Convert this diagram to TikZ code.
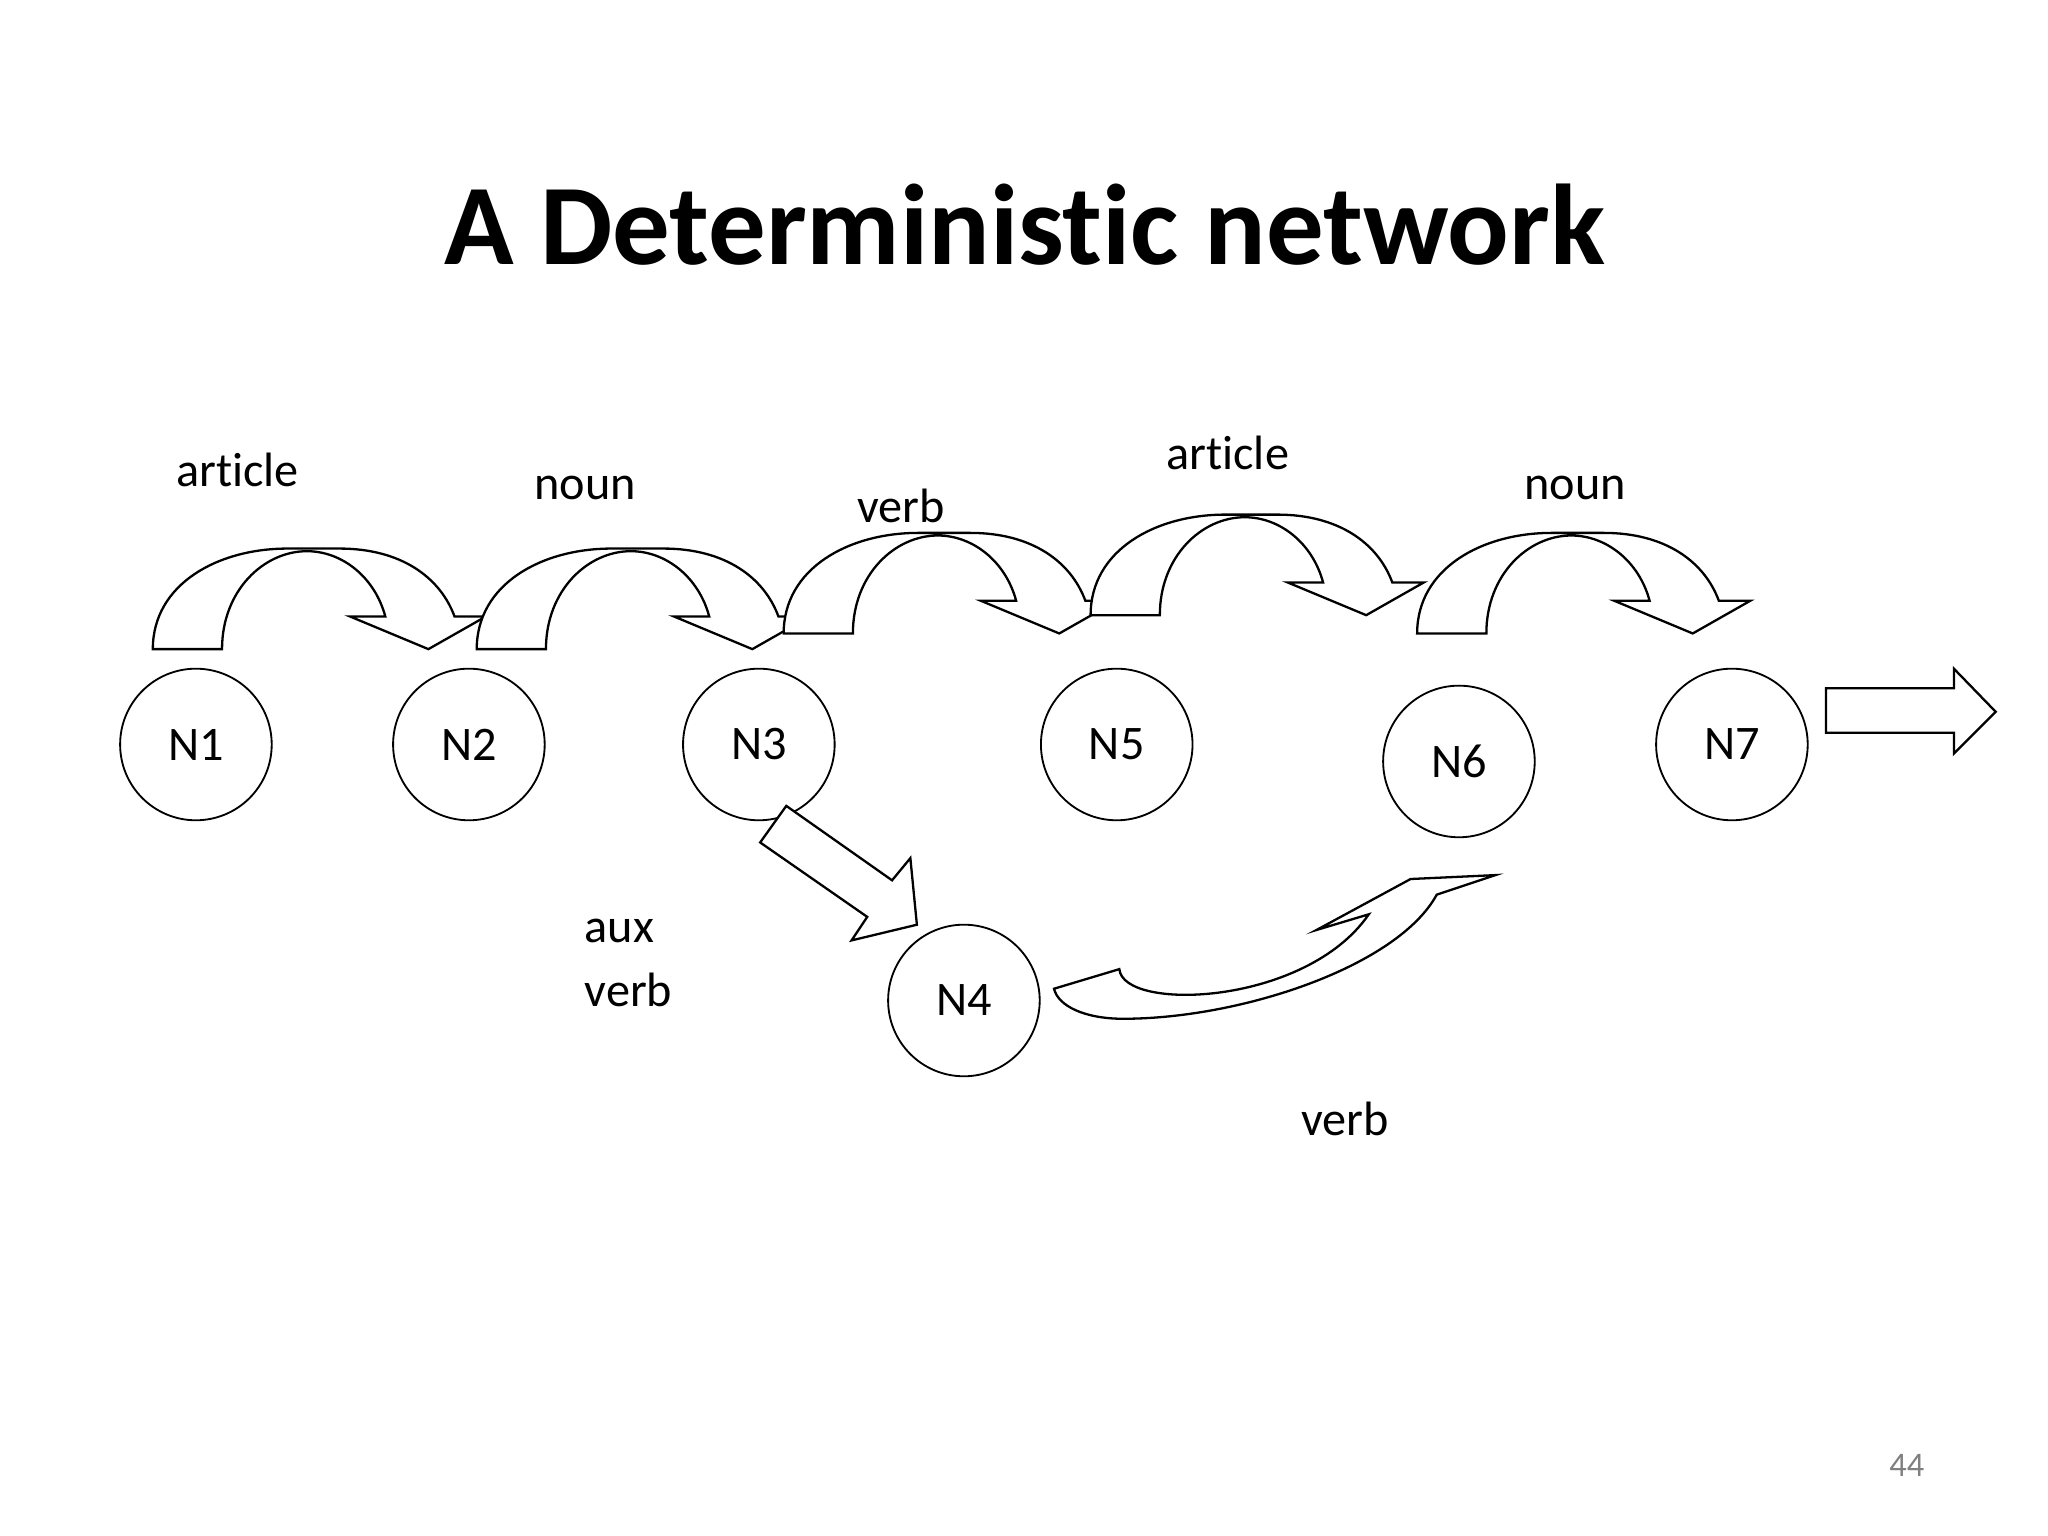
\documentclass[tikz,border=0pt]{standalone}
\usepackage{fontspec}
\setmainfont{Carlito}[Ligatures={NoCommon,NoRare}]
\usepackage{tikz}
\tikzstyle{state} = [draw=black, circle, minimum size=1.16cm, inner sep=0pt, font=\fontsize{10.5}{12}\selectfont]
\tikzstyle{lbl} = [font=\fontsize{10.5}{12}\selectfont, inner sep=0pt]
\tikzstyle{blockarrow} = [draw=black, fill=white, line width=0.5pt, line join=miter]
\newcommand{\curvearrow}[2]{%
  \draw[blockarrow, shift={(#1,#2)}] (0,0) -- (53,0)
    .. controls (53,-45) and (85,-75) .. (118,-75)
    .. controls (145,-75) and (170,-55) .. (178,-25)
    -- (151,-25) -- (211,0) -- (255,-25) -- (231,-25)
    .. controls (220,-55) and (190,-77) .. (143,-77)
    -- (103,-77) .. controls (50,-77) and (0,-50) .. cycle;}
\begin{document}
\begin{tikzpicture}[x=0.01cm,y=-0.01cm]
\useasboundingbox (0,0) rectangle (1568,1176);
% title
\node[font=\fontsize{25}{30}\selectfont\bfseries] (title) at (785,172) {A Deterministic network};
% curved arrows
\curvearrow{117}{497}
\curvearrow{365}{497}
\curvearrow{600}{485}
\curvearrow{835}{471}
\curvearrow{1085}{485}
% states
\node[state] (n1) at (150,570) {N1};
\node[state] (n2) at (359,570) {N2};
\node[state] (n3) at (581,570) {N3};
\node[state] (n5) at (855,570) {N5};
\node[state] (n6) at (1117,583) {N6};
\node[state] (n7) at (1326,570) {N7};
\node[state] (n4) at (738,766) {N4};
% labels
\node[lbl] (l1) at (182,360) {article};
\node[lbl] (l2) at (448,374) {noun};
\node[lbl] (l3) at (690,387) {verb};
\node[lbl] (l4) at (940,347) {article};
\node[lbl] (l5) at (1206,374) {noun};
\node[lbl, align=left, anchor=west] (l6) at (447,737) {aux\\[2pt]verb};
\node[lbl] (l7) at (1030,857) {verb};
\node[font=\fontsize{7.5}{9}\selectfont, text=gray] (page) at (1460,1122) {44};
% exit arrow
\draw[blockarrow] (1398,527) -- (1496,527) -- (1496,512) -- (1528,545)
  -- (1496,577) -- (1496,561) -- (1398,561) -- cycle;
% N3 to N4
\draw[blockarrow] (582,645) -- (602,617) -- (683,674) -- (697,657)
  -- (702,708) -- (652,720) -- (664,702) -- cycle;
% N4 to N6
\draw[blockarrow] (807,757) -- (857,742)
  .. controls (860,775) and (1000,770) .. (1048,700)
  -- (1008,712) -- (1080,673) -- (1145,670) -- (1100,685)
  .. controls (1070,740) and (950,780) .. (860,780)
  .. controls (830,780) and (810,770) .. (807,757) -- cycle;
\end{tikzpicture}
\end{document}
